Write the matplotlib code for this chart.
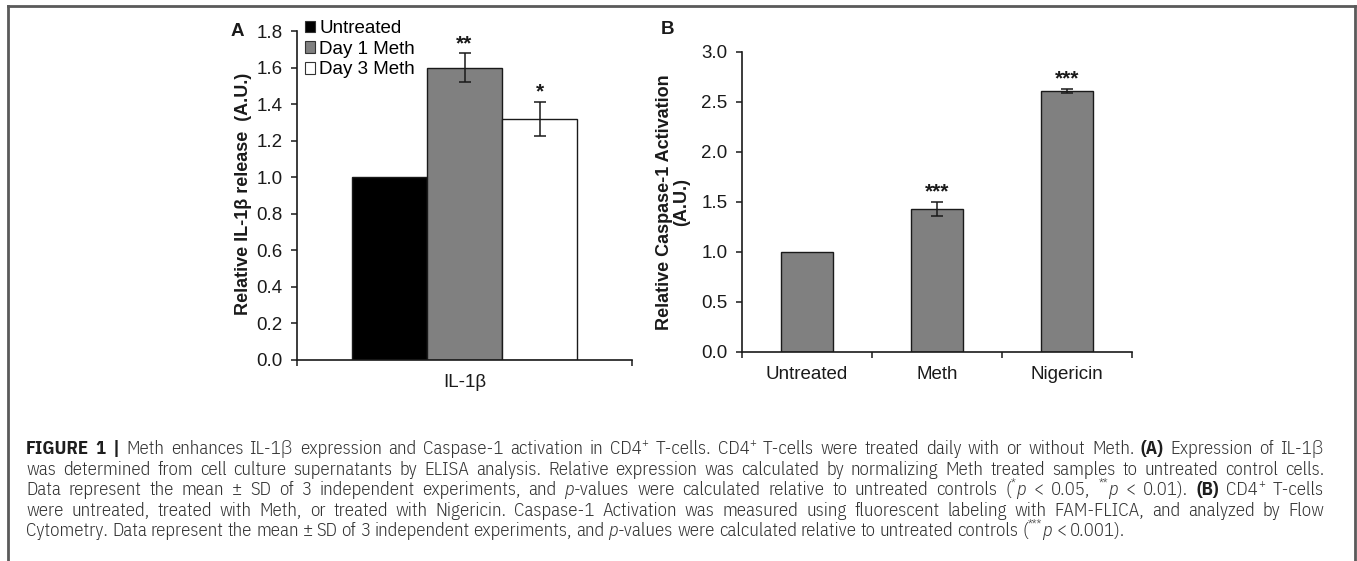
import matplotlib
matplotlib.use("Agg")
import matplotlib.pyplot as plt
from matplotlib.lines import Line2D
from matplotlib.patches import Patch
from matplotlib.transforms import IdentityTransform

# panel A: IL-1beta release
a_groups = ["Untreated", "Day 1 Meth", "Day 3 Meth"]
a_values = [1.00, 1.60, 1.32]
a_errors = [0.0, 0.077, 0.093]
a_stars = ["", "**", "*"]
a_colors = ["#000000", "#808080", "#ffffff"]
a_category = "IL-1β"
a_ticks = [0.0, 0.2, 0.4, 0.6, 0.8, 1.0, 1.2, 1.4, 1.6, 1.8]

# panel B: caspase-1 activation
b_groups = ["Untreated", "Meth", "Nigericin"]
b_values = [1.00, 1.43, 2.61]
b_errors = [0.0, 0.07, 0.02]
b_stars = ["", "***", "***"]
b_ticks = [0.0, 0.5, 1.0, 1.5, 2.0, 2.5, 3.0]

# caption: each line is a list of words, each word a list of (text, style)
# style: n normal, b bold, i italic, s superscript
caption = [
    [[("FIGURE", "b")], [("1", "b")], [("|", "b")], [("Meth", "n")], [("enhances", "n")],
     [("IL-1β", "n")], [("expression", "n")], [("and", "n")], [("Caspase-1", "n")],
     [("activation", "n")], [("in", "n")], [("CD4", "n"), ("+", "s")], [("T-cells.", "n")],
     [("CD4", "n"), ("+", "s")], [("T-cells", "n")], [("were", "n")], [("treated", "n")],
     [("daily", "n")], [("with", "n")], [("or", "n")], [("without", "n")], [("Meth.", "n")],
     [("(A)", "b")], [("Expression", "n")], [("of", "n")], [("IL-1β", "n")]],
    [[(w, "n")] for w in "was determined from cell culture supernatants by ELISA analysis. "
     "Relative expression was calculated by normalizing Meth treated samples to untreated "
     "control cells.".split()],
    [[(w, "n")] for w in "Data represent the mean ± SD of 3 independent experiments, and".split()]
    + [[("p", "i"), ("-values", "n")]]
    + [[(w, "n")] for w in "were calculated relative to untreated controls".split()]
    + [[("(", "n"), ("*", "s"), ("p", "i")], [("<", "n")], [("0.05,", "n")],
       [("**", "s"), ("p", "i")], [("<", "n")], [("0.01).", "n")], [("(B)", "b")],
       [("CD4", "n"), ("+", "s")], [("T-cells", "n")]],
    [[(w, "n")] for w in "were untreated, treated with Meth, or treated with Nigericin. "
     "Caspase-1 Activation was measured using fluorescent labeling with FAM-FLICA, "
     "and analyzed by Flow".split()],
    [[(w, "n")] for w in "Cytometry. Data represent the mean ± SD of 3 independent "
     "experiments, and".split()]
    + [[("p", "i"), ("-values", "n")]]
    + [[(w, "n")] for w in "were calculated relative to untreated controls".split()]
    + [[("(", "n"), ("***", "s"), ("p", "i")], [("<", "n")], [("0.001).", "n")]],
]

W, H = 1357, 561
FONT = "Liberation Sans"
CAP_FONT = ["IBM Plex Sans Condensed", "Open Sans", "DejaVu Sans"]
INK = "#1a1a1a"
CAP_INK = "#333333"

plt.rcParams["font.family"] = [FONT, "DejaVu Sans"]

fig = plt.figure(figsize=(W / 100, H / 100), dpi=100)


def px_box(left, top, right, bottom):
    return [left / W, 1 - bottom / H, (right - left) / W, (bottom - top) / H]


def piece(s, kind, size):
    kw = dict(fontsize=size, color=CAP_INK, transform=IdentityTransform(),
              ha="left", va="baseline", family=CAP_FONT, fontweight=300)
    if kind == "b":
        kw["fontweight"] = "bold"
        kw["color"] = "#1e1e1e"
    if kind == "i":
        kw["fontstyle"] = "italic"
    if kind == "s":
        kw["fontsize"] = size * 0.68
    return fig.text(0, 0, s, **kw)


def build_caption(size):
    r = fig.canvas.get_renderer()
    t1, t2 = piece("x x", "n", size), piece("xx", "n", size)
    space = t1.get_window_extent(r).width - t2.get_window_extent(r).width
    t1.remove()
    t2.remove()
    rows = []
    for line in caption:
        words = []
        for word in line:
            arts = [(piece(s, k, size), k) for s, k in word]
            widths = [a.get_window_extent(r).width for a, _ in arts]
            words.append((arts, widths))
        natural = sum(sum(ws) for _, ws in words) + space * (len(words) - 1)
        rows.append((words, natural))
    return rows, space


def drop(rows):
    for words, _ in rows:
        for arts, _ in words:
            for a, _ in arts:
                a.remove()


x0, x1 = 26, 1324
y_first, step = 454, 20.6
rows, _ = build_caption(12)
fit = min((x1 - x0) / nat for _, nat in rows[:-1])
drop(rows)
size = min(12 * fit, 13.5)
rows, space = build_caption(size)
for i, (words, natural) in enumerate(rows):
    gap = space
    if i < len(rows) - 1:
        gap += (x1 - x0 - natural) / (len(words) - 1)
    x = x0
    y = H - (y_first + i * step)
    for arts, widths in words:
        for (a, k), w in zip(arts, widths):
            a.set_position((x, y + (size * 0.55 if k == "s" else 0)))
            x += w
        x += gap

# outer frame of the figure box
frame = dict(color="#5a5a5a", linewidth=2, transform=fig.transFigure)
fig.add_artist(Line2D([8 / W, 1355 / W], [1 - 6 / H, 1 - 6 / H], **frame))
fig.add_artist(Line2D([8 / W, 8 / W], [0, 1 - 6 / H], **frame))
fig.add_artist(Line2D([1355 / W, 1355 / W], [0, 1 - 6 / H], **frame))


def style_axes(ax):
    for side in ["top", "right"]:
        ax.spines[side].set_visible(False)
    for side in ["left", "bottom"]:
        ax.spines[side].set_color(INK)
        ax.spines[side].set_linewidth(1.2)
    ax.tick_params(axis="y", direction="out", length=4.5, width=1.1, color=INK,
                   labelsize=13.5, labelcolor=INK, pad=6)
    ax.tick_params(axis="x", which="major", length=0, labelsize=13.5,
                   labelcolor=INK, pad=10)
    ax.tick_params(axis="x", which="minor", direction="out", length=4.5,
                   width=1.1, color=INK)


err_kw = dict(ecolor=INK, elinewidth=1.1, capsize=4.2, capthick=1.1)

# ---- panel A
axA = fig.add_axes(px_box(297, 31, 632, 360))
pos = [-1, 0, 1]
for p, v, e, c, g in zip(pos, a_values, a_errors, a_colors, a_groups):
    axA.bar(p, v, width=1.0, color=c, edgecolor=INK, linewidth=1.0, label=g,
            yerr=e if e > 0 else None, error_kw=err_kw)
for p, v, e, s in zip(pos, a_values, a_errors, a_stars):
    if s:
        axA.annotate(s, (p, v + e), xytext=(0, 10), textcoords="offset pixels",
                     ha="center", va="center", fontsize=15, fontweight="bold", color=INK)
axA.set_xlim(-2.227, 2.227)
axA.set_ylim(0, 1.8)
axA.set_yticks(a_ticks)
axA.set_yticklabels([f"{t:.1f}" for t in a_ticks])
axA.set_xticks([0])
axA.set_xticklabels([a_category])
axA.set_xticks([-2.227, 2.227], minor=True)
style_axes(axA)
handles = [Patch(facecolor=c, edgecolor="#333333", linewidth=0.8) for c in a_colors]
axA.legend(handles, a_groups, loc="upper left", bbox_to_anchor=(305 / W, 1 - 20 / H),
           bbox_transform=fig.transFigure, frameon=False, fontsize=13.5,
           handlelength=0.55, handleheight=0.55, handletextpad=0.2,
           labelspacing=0.2, borderpad=0, borderaxespad=0)
fig.text(244 / W, 1 - 194 / H, "Relative IL-1β release  (A.U.)", rotation=90,
         ha="center", va="center", fontsize=13, fontweight="bold", color=INK)
fig.text(237 / W, 1 - 32 / H, "A", ha="center", va="center", fontsize=13.5,
         fontweight="bold", color=INK)

# ---- panel B
axB = fig.add_axes(px_box(742, 52, 1132, 352))
bpos = list(range(len(b_groups)))
axB.bar(bpos, b_values, width=0.4, color="#808080", edgecolor=INK, linewidth=1.0)
for p, v, e in zip(bpos, b_values, b_errors):
    if e > 0:
        axB.errorbar(p, v, yerr=e, fmt="none", **err_kw)
for p, v, e, s in zip(bpos, b_values, b_errors, b_stars):
    if s:
        axB.annotate(s, (p, v + e), xytext=(0, 10), textcoords="offset pixels",
                     ha="center", va="center", fontsize=15, fontweight="bold", color=INK)
axB.set_xlim(-0.5, 2.5)
axB.set_ylim(0, 3.0)
axB.set_yticks(b_ticks)
axB.set_yticklabels([f"{t:.1f}" for t in b_ticks])
axB.set_xticks(bpos)
axB.set_xticklabels(b_groups)
axB.set_xticks([-0.5, 0.5, 1.5, 2.5], minor=True)
style_axes(axB)
fig.text(673 / W, 1 - 202 / H, "Relative Caspase-1 Activation\n(A.U.)", rotation=90,
         ha="center", va="center", multialignment="center", linespacing=1.0,
         fontsize=13, fontweight="bold", color=INK)
fig.text(667 / W, 1 - 29 / H, "B", ha="center", va="center", fontsize=13.5,
         fontweight="bold", color=INK)

fig.savefig("out.png", dpi=100)
